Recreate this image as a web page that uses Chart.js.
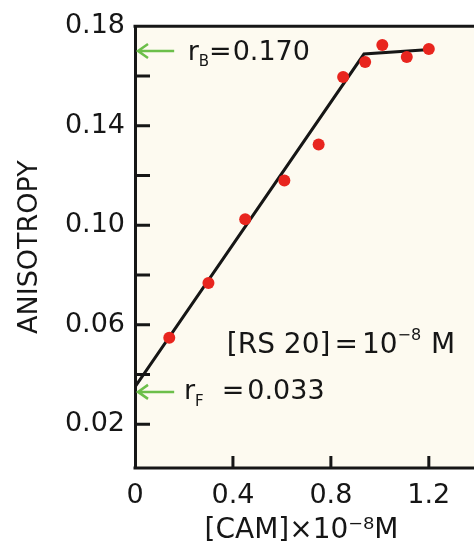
<!DOCTYPE html>
<html>
<head>
<meta charset="utf-8">
<script src="https://cdn.jsdelivr.net/npm/chart.js@4.4.1/dist/chart.umd.min.js"></script>
<style>
  html, body { margin: 0; padding: 0; background: #ffffff; overflow: hidden; }
  #caja { width: 474px; height: 552px; }
</style>
</head>
<body>
<div id="caja"><canvas id="grafico"></canvas></div>
<script>
// datos
const camX = [0.14, 0.30, 0.45, 0.61, 0.75, 0.85, 0.94, 1.01, 1.11, 1.20];
const anisotropia = [0.0548, 0.0768, 0.1024, 0.1180, 0.1324, 0.1596, 0.1656, 0.1724, 0.1676, 0.1708];
const ajusteX = [0, 0.935, 1.19];
const ajusteY = [0.035, 0.1688, 0.1705];
const ticksY = [0.02, 0.04, 0.06, 0.08, 0.10, 0.12, 0.14, 0.16, 0.18];
const etiquetasY = [0.02, 0.06, 0.10, 0.14, 0.18];
const ticksX = [0, 0.4, 0.8, 1.2];
const rB = 0.170;
const rF = 0.033;

const fuente = "'DejaVu Sans'";
const negro = '#161616';
const verde = '#6cbf4a';

function textoPartes(ctx, x, y, partes) {
    ctx.textBaseline = 'middle';
    ctx.textAlign = 'left';
    partes.forEach(p => {
        ctx.font = p.size + 'px ' + fuente;
        ctx.fillText(p.t, x, y + (p.dy || 0));
        x += ctx.measureText(p.t).width + (p.gap || 0);
    });
}

function flecha(ctx, x0, x1, y) {
    ctx.save();
    ctx.strokeStyle = verde;
    ctx.lineWidth = 2.5;
    ctx.beginPath();
    ctx.moveTo(x0, y);
    ctx.lineTo(x1, y);
    ctx.moveTo(x1 + 10, y - 7);
    ctx.lineTo(x1, y);
    ctx.lineTo(x1 + 10, y + 7);
    ctx.stroke();
    ctx.restore();
}

const decoracion = {
    id: 'decoracion',
    beforeDraw(chart) {
        const { ctx, chartArea } = chart;
        ctx.save();
        ctx.fillStyle = '#fdfaf0';
        ctx.fillRect(chartArea.left, chartArea.top, chart.width - chartArea.left, chartArea.bottom - chartArea.top);
        ctx.restore();
    },
    beforeDatasetsDraw(chart) {
        const { ctx, chartArea, scales } = chart;
        ctx.save();
        ctx.strokeStyle = negro;
        ctx.lineWidth = 3;
        ctx.beginPath();
        ticksY.forEach(v => {
            const y = scales.y.getPixelForValue(v);
            ctx.moveTo(chartArea.left, y);
            ctx.lineTo(chartArea.left + 15, y);
        });
        ticksX.slice(1).forEach(v => {
            const x = scales.x.getPixelForValue(v);
            ctx.moveTo(x, chartArea.bottom);
            ctx.lineTo(x, chartArea.bottom - 12);
        });
        ctx.moveTo(chartArea.left - 1.5, chartArea.top);
        ctx.lineTo(chart.width, chartArea.top);
        ctx.moveTo(chartArea.left - 1.5, chartArea.bottom);
        ctx.lineTo(chart.width, chartArea.bottom);
        ctx.stroke();
        ctx.restore();
    },
    afterDraw(chart) {
        const { ctx, chartArea, scales } = chart;
        const xs = scales.x, ys = scales.y;
        ctx.save();
        ctx.fillStyle = negro;

        const yB = ys.getPixelForValue(rB);
        flecha(ctx, xs.getPixelForValue(0.16), chartArea.left + 3, yB);
        textoPartes(ctx, xs.getPixelForValue(0.215), yB + 2, [
            { t: 'r', size: 27 },
            { t: 'B', size: 15, dy: 9, gap: 0 },
            { t: '=', size: 27, gap: 1 },
            { t: '0.170', size: 27 }
        ]);

        const yF = ys.getPixelForValue(rF);
        flecha(ctx, xs.getPixelForValue(0.16), chartArea.left + 3, yF);
        textoPartes(ctx, xs.getPixelForValue(0.20), yF, [
            { t: 'r', size: 27 },
            { t: 'F', size: 15, dy: 10, gap: 18 },
            { t: '=', size: 27, gap: 3 },
            { t: '0.033', size: 27 }
        ]);

        textoPartes(ctx, xs.getPixelForValue(0.375), ys.getPixelForValue(0.0516), [
            { t: '[RS 20]', size: 28, gap: 4 },
            { t: '=', size: 28, gap: 4 },
            { t: '10', size: 28 },
            { t: '−8', size: 16, dy: -10, gap: 10 },
            { t: 'M', size: 28 }
        ]);
        ctx.restore();
    }
};

const lienzo = document.getElementById('grafico');

new Chart(lienzo, {
    type: 'scatter',
    data: {
        datasets: [{
            label: 'Anisotropía',
            data: camX.map((x, i) => ({ x: x, y: anisotropia[i] })),
            backgroundColor: '#e8251e',
            borderColor: '#e8251e',
            pointRadius: 6,
            pointBorderWidth: 0
        }, {
            type: 'line',
            label: 'Ajuste',
            data: ajusteX.map((x, i) => ({ x: x, y: ajusteY[i] })),
            borderColor: negro,
            borderWidth: 3,
            pointRadius: 0,
            fill: false,
            tension: 0
        }]
    },
    options: {
        responsive: true,
        maintainAspectRatio: false,
        animation: false,
        events: [],
        layout: { padding: { left: 0, top: 24, right: 0, bottom: 0 } },
        plugins: {
            legend: { display: false },
            tooltip: { enabled: false }
        },
        scales: {
            x: {
                type: 'linear',
                min: 0,
                max: 1.36,
                afterBuildTicks: eje => { eje.ticks = ticksX.map(v => ({ value: v })); },
                afterFit: eje => { eje.height = 84; },
                grid: { display: false, drawTicks: false },
                border: { display: false },
                ticks: {
                    color: negro,
                    padding: 12,
                    maxRotation: 0,
                    font: { family: fuente, size: 27 },
                    callback: v => String(v)
                },
                title: {
                    display: true,
                    text: '[CAM]×10⁻⁸M',
                    color: negro,
                    padding: { top: 0, bottom: 4 },
                    font: { family: fuente, size: 28 }
                }
            },
            y: {
                min: 0.0024,
                max: 0.18,
                afterBuildTicks: eje => { eje.ticks = ticksY.map(v => ({ value: v })); },
                afterFit: eje => { eje.width = 135; },
                grid: { display: false, drawTicks: false },
                border: { display: true, color: negro, width: 3 },
                ticks: {
                    color: negro,
                    padding: 10,
                    font: { family: fuente, size: 27 },
                    callback: v => etiquetasY.some(e => Math.abs(e - v) < 1e-6) ? v.toFixed(2) : ''
                },
                title: {
                    display: true,
                    text: 'ANISOTROPY',
                    color: negro,
                    padding: { top: 14, bottom: 0 },
                    font: { family: fuente, size: 27 }
                }
            }
        }
    },
    plugins: [decoracion]
});
</script>
</body>
</html>
